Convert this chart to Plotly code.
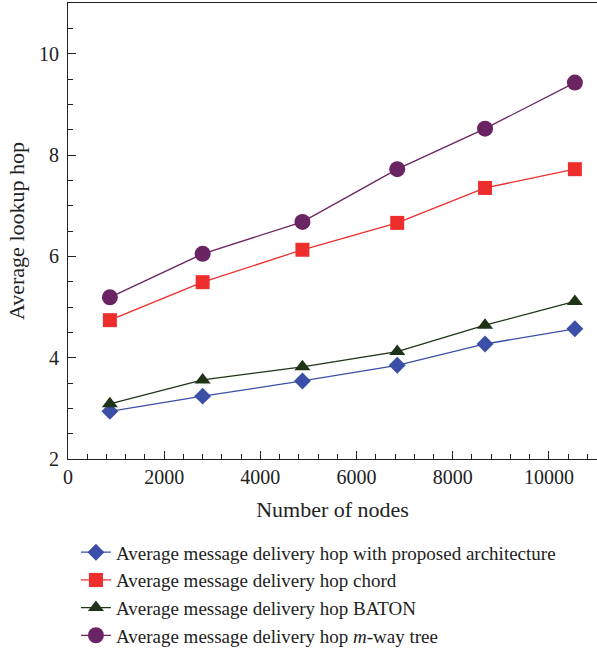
import plotly.graph_objects as go

nodes = [871, 2800, 4875, 6846, 8672, 10540]
proposed = [2.94, 3.24, 3.54, 3.85, 4.27, 4.57]
chord = [4.74, 5.49, 6.13, 6.66, 7.35, 7.72]
baton = [3.09, 3.56, 3.82, 4.12, 4.64, 5.11]
mway = [5.19, 6.05, 6.68, 7.72, 8.52, 9.43]

x_ticks = [0, 2000, 4000, 6000, 8000, 10000]
x_ticktext = ["0", "2000", "4000", "6000", "8000", "10000"]
y_ticks = [2, 4, 6, 8, 10]

names = [
    "Average message delivery hop with proposed architecture",
    "Average message delivery hop chord",
    "Average message delivery hop BATON",
    "Average message delivery hop <i>m</i>-way tree",
]
series = [proposed, chord, baton, mway]
colors = ["#3b4fa8", "#ee2d2d", "#1f3319", "#6b2463"]
symbols = ["diamond", "square", "triangle-up", "circle"]
sizes = [13, 14, 14, 16]

fig = go.Figure()
for name, ys, c, s, sz in zip(names, series, colors, symbols, sizes):
    fig.add_trace(go.Scatter(
        x=nodes, y=ys, name=name, mode="lines+markers",
        line=dict(color=c, width=1.3),
        marker=dict(symbol=s, size=sz, color=c, line=dict(width=0)),
    ))

font = "Liberation Serif, Times New Roman, serif"
fig.update_layout(
    width=597, height=652,
    margin=dict(l=68, r=0, t=3, b=193, autoexpand=False),
    paper_bgcolor="white", plot_bgcolor="white",
    font=dict(family=font, size=18, color="#222"),
    showlegend=True,
    legend=dict(x=0.015, y=-0.163, xanchor="left", yanchor="top",
                font=dict(size=19, family=font, color="#222"),
                bgcolor="rgba(0,0,0,0)", tracegroupgap=0),
)
fig.update_xaxes(
    range=[0, 11000], tickvals=x_ticks, ticktext=x_ticktext,
    ticks="inside", ticklen=8, tickcolor="#222", tickwidth=1,
    minor=dict(dtick=400, ticks="inside", ticklen=5, tickcolor="#222", tickwidth=1),
    showline=True, linecolor="#222", linewidth=1.2, mirror=True,
    showgrid=False, zeroline=False, automargin=False,
    title=dict(text="Number of nodes", standoff=14),
    tickfont=dict(size=20),
)
fig.update_yaxes(
    range=[2, 11], tickvals=y_ticks,
    ticks="inside", ticklen=8, tickcolor="#222", tickwidth=1,
    minor=dict(dtick=0.5, ticks="inside", ticklen=5, tickcolor="#222", tickwidth=1),
    showline=True, linecolor="#222", linewidth=1.2, mirror=True,
    showgrid=False, zeroline=False, automargin=False,
    ticklabelstandoff=4,
    title=dict(text="Average lookup hop", standoff=8),
    tickfont=dict(size=20),
)
fig.write_html("out.html", config={"displayModeBar": False},
               post_script="document.body.style.margin='0';")
